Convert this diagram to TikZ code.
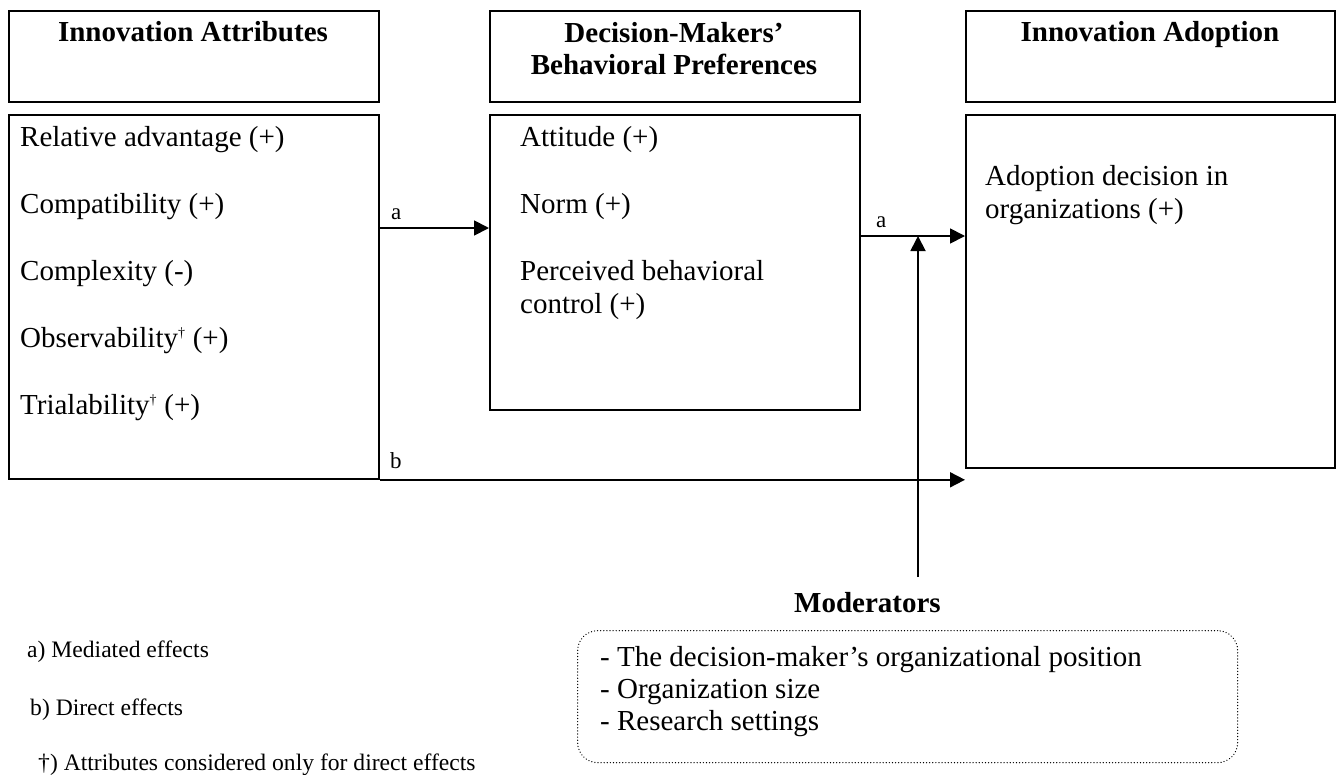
\documentclass[tikz,border=0pt]{standalone}
\usepackage{fontspec}
\setmainfont{Liberation Serif}
\usetikzlibrary{arrows.meta,calc}
\begin{document}
\begin{tikzpicture}[x=1pt,y=-1pt,
  box/.style={draw, line width=1.8pt, inner sep=0pt, anchor=north west},
  body/.style={anchor=base west, inner sep=0pt, font=\fontsize{29}{33}\selectfont},
  head/.style={anchor=base, inner sep=0pt, align=center, font=\fontsize{29}{32}\selectfont\bfseries},
  lbl/.style={anchor=base west, inner sep=0pt, font=\fontsize{23}{27}\selectfont},
  leg/.style={anchor=base west, inner sep=0pt, font=\fontsize{23.6}{28}\selectfont},
  arr/.style={line width=1.8pt, -{Triangle[length=15pt,width=15pt]}},
  modbox/.style={draw, line width=1.3pt, dash pattern=on 0.1pt off 3pt, line cap=round, rounded corners=20pt, inner sep=0pt, anchor=north west}
]
\useasboundingbox (0,0) rectangle (1343,774);

% boxes
\node[box, minimum width=370pt, minimum height=91pt] (h1) at (8,10) {};
\node[box, minimum width=370pt, minimum height=364pt] (b1) at (8,114) {};
\node[box, minimum width=370pt, minimum height=91pt] (h2) at (489,10) {};
\node[box, minimum width=370pt, minimum height=295pt] (b2) at (489,114) {};
\node[box, minimum width=369pt, minimum height=91pt] (h3) at (965,10) {};
\node[box, minimum width=369pt, minimum height=353pt] (b3) at (965,114) {};

% headers
\node[head] (t1) at (193,41) {Innovation Attributes};
\node[head] (t2a) at (674,42) {Decision-Makers’};
\node[head] (t2b) at (674,74) {Behavioral Preferences};
\node[head] (t3) at (1150,41) {Innovation Adoption};

% box 1 texts
\node[body] (r1) at (20,146) {Relative advantage (+)};
\node[body] (r2) at (20,213) {Compatibility (+)};
\node[body] (r3) at (20,280) {Complexity (-)};
\node[body] (r4) at (20,347) {Observability\textsuperscript{\fontsize{14}{14}\selectfont †} (+)};
\node[body] (r5) at (20,414) {Trialability\textsuperscript{\fontsize{14}{14}\selectfont †} (+)};

% box 2 texts
\node[body] (m1) at (520,146) {Attitude (+)};
\node[body] (m2) at (520,213) {Norm (+)};
\node[body] (m3) at (520,280) {Perceived behavioral};
\node[body] (m4) at (520,313) {control (+)};

% box 3 texts
\node[body] (o1) at (985,185) {Adoption decision in};
\node[body] (o2) at (985,218) {organizations (+)};

% connectors
\coordinate (a1s) at (378,228);
\coordinate (a2s) at (859,236);
\draw[arr] (a1s) -- (a1s -| b2.west);
\draw[arr] (a2s) -- (a2s -| b3.west);
\draw[arr] (b1.south east) -- (b1.south east -| b3.west);
\node[lbl] (la1) at (391,219) {a};
\node[lbl] (la2) at (876,227) {a};
\node[lbl] (lb) at (390,468) {b};

% moderators
\coordinate (modtop) at (918,577);
\draw[arr] (modtop) -- (modtop |- a2s);
\node[head, anchor=base west] (modt) at (794,612) {Moderators};
\node[modbox, minimum width=660pt, minimum height=132pt] (mb) at (577,630) {};
\node[body] (mi1) at (600,666) {- The decision-maker’s organizational position};
\node[body] (mi2) at (600,698) {- Organization size};
\node[body] (mi3) at (600,730) {- Research settings};

% legend
\node[leg] (g1) at (27,657) {a) Mediated effects};
\node[leg] (g2) at (30,715) {b) Direct effects};
\node[leg] (g3) at (38,770) {†) Attributes considered only for direct effects};
\end{tikzpicture}
\end{document}
